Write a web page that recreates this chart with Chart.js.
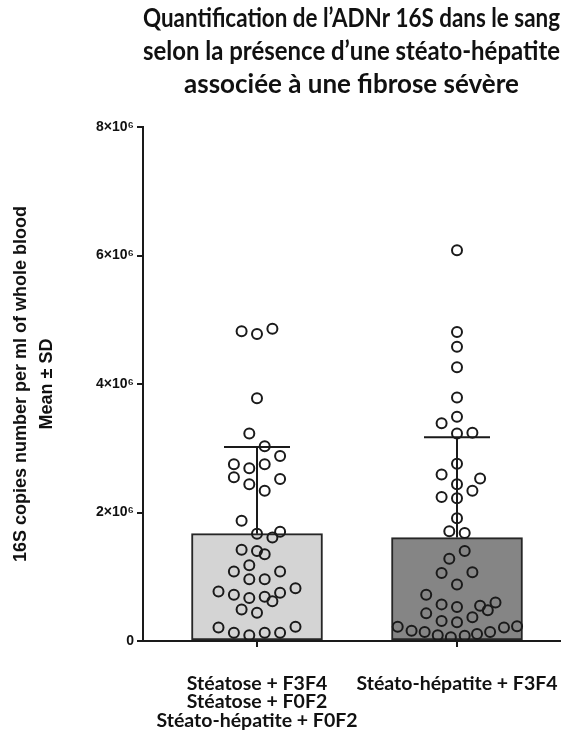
<!DOCTYPE html>
<html>
<head>
<meta charset="utf-8">
<title>ADNr 16S</title>
<script src="https://cdn.jsdelivr.net/npm/chart.js@4.4.1/dist/chart.umd.min.js"></script>
<style>
  html, body { margin: 0; padding: 0; background: #fff; }
  #wrap { width: 574px; height: 740px; }
</style>
</head>
<body>
<div id="wrap"><canvas id="chart" width="574" height="740"></canvas></div>
<script>
// Groupes (axe des x)
const groupLabels = [
  ["Stéatose + F3F4", "Stéatose + F0F2", "Stéato-hépatite + F0F2"],
  "Stéato-hépatite + F3F4",
];

// Moyenne et ecart-type de chaque groupe (copies / ml)
const groupMeans = [1.67e6, 1.61e6];
const groupSD = [1.35e6, 1.56e6];

// Valeurs individuelles (en millions de copies / ml)
const groupAValues = [
  4.82, 4.78, 4.86, 3.78, 3.23, 3.03, 2.88, 2.75, 2.69, 2.75, 2.55, 2.52, 2.44, 2.34,
  1.87, 1.67, 1.61, 1.70, 1.42, 1.40, 1.35, 1.18, 1.08, 1.08, 0.96, 0.96,
  0.77, 0.72, 0.67, 0.69, 0.62, 0.75, 0.82, 0.49, 0.44,
  0.21, 0.13, 0.09, 0.13, 0.13, 0.22,
];
// Colonne de dispersion de chaque point
const groupASlots = [
  -2, 0, 2, 0, -1, 1, 3, -3, -1, 1, -3, 3, -1, 1,
  -2, 0, 2, 3, -2, 0, 1, -1, -3, 3, -1, 1,
  -5, -3, -1, 1, 2, 3, 5, -2, 0,
  -5, -3, -1, 1, 3, 5,
];

const groupBValues = [
  6.08, 4.81, 4.58, 4.26, 3.79, 3.49, 3.39, 3.23, 3.24,
  2.76, 2.59, 2.53, 2.44, 2.34, 2.24, 2.22, 1.91, 1.71, 1.68,
  1.40, 1.28, 1.06, 1.07, 0.88, 0.72, 0.57, 0.53, 0.55, 0.60, 0.48,
  0.43, 0.37, 0.31, 0.29,
  0.22, 0.16, 0.14, 0.09, 0.06, 0.08, 0.11, 0.14, 0.21, 0.23,
];
const groupBSlots = [
  0, 0, 0, 0, 0, 0, -2, 0, 2,
  0, -2, 3, 0, 2, -2, 0, 0, -1, 1,
  1, -1, -2, 2, 0, -4, -2, 0, 3, 5, 4,
  -4, 2, -2, 0,
  -7.7, -5.9, -4.2, -2.5, -0.8, 1, 2.6, 4.3, 6.1, 7.8,
];

const yTicks = [0, 2e6, 4e6, 6e6, 8e6];

const INK = "#1a1a1a";
const SLOT = 0.0385; // largeur d'une colonne de dispersion, en unites de l'axe x

function nuage(valeurs, slots, groupe) {
  return valeurs.map((v, i) => ({ x: groupe + slots[i] * SLOT, y: v * 1e6 }));
}

// Barres d'erreur (moyenne -> moyenne + ET), dessinees par-dessus
const errorBars = {
  id: "errorBars",
  afterDatasetsDraw(chart) {
    const { ctx, scales: { x, y } } = chart;
    ctx.save();
    ctx.strokeStyle = INK;
    ctx.lineWidth = 2;
    groupMeans.forEach((m, i) => {
      const px = x.getPixelForValue(i);
      const haut = y.getPixelForValue(m + groupSD[i]);
      ctx.beginPath();
      ctx.moveTo(px, y.getPixelForValue(m));
      ctx.lineTo(px, haut);
      ctx.moveTo(px - 33, haut);
      ctx.lineTo(px + 33, haut);
      ctx.stroke();
    });
    ctx.restore();
  },
};

const pointStyle = {
  type: "scatter",
  pointRadius: 5,
  pointHoverRadius: 5,
  pointBorderWidth: 2,
  pointBorderColor: INK,
  pointBackgroundColor: "rgba(0,0,0,0)",
  order: 1,
};

new Chart(document.getElementById("chart"), {
  type: "bar",
  data: {
    datasets: [
      {
        type: "bar",
        data: groupMeans.map((m, i) => ({ x: i, y: m })),
        backgroundColor: ["#d4d4d4", "#858585"],
        borderColor: "#262626",
        borderWidth: 2,
        borderSkipped: false,
        barThickness: 131,
        order: 2,
      },
      { ...pointStyle, data: nuage(groupAValues, groupASlots, 0) },
      { ...pointStyle, data: nuage(groupBValues, groupBSlots, 1) },
    ],
  },
  options: {
    responsive: false,
    animation: false,
    layout: { padding: { left: 0, right: 14, top: 0, bottom: 0 } },
    plugins: {
      legend: { display: false },
      tooltip: { enabled: false },
      title: {
        display: true,
        fullSize: false,
        text: [
          "Quantification de l\u2019ADNr 16S dans le sang",
          "selon la présence d\u2019une stéato-hépatite",
          "associée à une fibrose sévère",
        ],
        color: "#111",
        font: { family: "Lato", size: 26, weight: "bold", lineHeight: "33px" },
        padding: { top: 2, bottom: 26 },
      },
    },
    scales: {
      x: {
        type: "linear",
        min: -0.57,
        max: 1.515,
        offset: false,
        afterBuildTicks(scale) {
          scale.ticks = groupLabels.map((_, i) => ({ value: i }));
        },
        afterFit(scale) {
          scale.height = 99;
          // les etiquettes peuvent deborder un peu a droite, comme sur la figure
          scale.paddingLeft = 0;
          scale.paddingRight = 0;
        },
        ticks: {
          autoSkip: false,
          maxRotation: 0,
          padding: 27,
          color: "#111",
          font: { family: "Lato", size: 19.5, weight: "bold", lineHeight: "18.5px" },
          callback: v => groupLabels[v],
        },
        grid: { display: true, drawOnChartArea: false, drawTicks: true, tickLength: 6, color: INK, lineWidth: 2, offset: false },
        border: { display: true, color: INK, width: 2 },
      },
      y: {
        min: 0,
        max: 8e6,
        afterBuildTicks(scale) {
          scale.ticks = yTicks.map(v => ({ value: v }));
        },
        afterFit(scale) {
          scale.width = 143;
        },
        ticks: {
          padding: 3,
          color: "#111",
          font: { family: "Liberation Sans", size: 14, weight: "bold" },
          callback: v => (v === 0 ? "0" : v / 1e6 + "×10\u2076"),
        },
        grid: { display: true, drawOnChartArea: false, drawTicks: true, tickLength: 6, color: INK, lineWidth: 2 },
        border: { display: true, color: INK, width: 2 },
        title: {
          display: true,
          text: ["16S copies number per ml of whole blood", "Mean ± SD"],
          color: "#111",
          font: { family: "Liberation Sans", size: 18, weight: "bold", lineHeight: "26px" },
          padding: { top: 8, bottom: 0 },
        },
      },
    },
  },
  plugins: [errorBars],
});
</script>
</body>
</html>
